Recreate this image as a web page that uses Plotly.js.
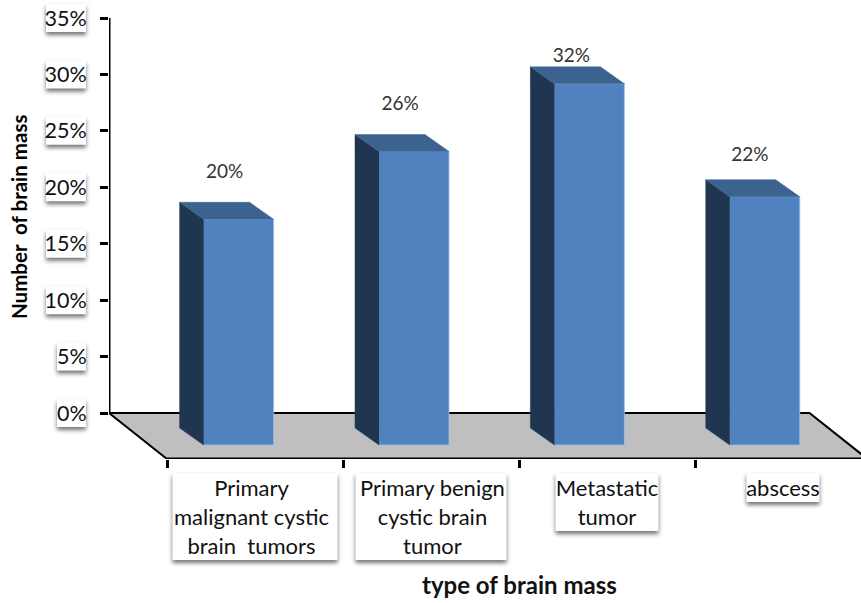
<!DOCTYPE html>
<html>
<head>
<meta charset="utf-8">
<script src="https://cdn.plot.ly/plotly-3.0.1.min.js"></script>
<style>
  html, body { margin: 0; padding: 0; background: #fff; }
  #chart { width: 861px; height: 603px; }
</style>
</head>
<body>
<div id="chart"></div>
<script>
// Brain mass types, share of cases
const categories = ['Primary<br>malignant cystic<br>brain\u00a0\u00a0tumors', 'Primary benign<br>cystic brain<br>tumor', 'Metastatic<br>tumor', 'abscess'];
const values = [20, 26, 32, 22];
const valueLabels = ['20%', '26%', '32%', '22%'];
const yTicks = [0, 5, 10, 15, 20, 25, 30, 35];
const yTickLabels = ['0%', '5%', '10%', '15%', '20%', '25%', '30%', '35%'];

// Pixel scale of the page
const PLOT_L = 109, PLOT_R = 861, PLOT_B = 459, WALL_ZERO = 413, WALL_TOP = 18;
const PX_PER_UNIT_Y = (WALL_ZERO - WALL_TOP) / 35;
const PX_PER_CAT = 176, FRONT_LEFT = 167;

// Perspective offsets of the floor and the bars, in axis units
const FLOOR_DX = (FRONT_LEFT - PLOT_L) / PX_PER_CAT, FLOOR_DY = (PLOT_B - WALL_ZERO) / PX_PER_UNIT_Y;
const FLOOR_END = 3.98;
const BAR_BASE = -32 / PX_PER_UNIT_Y, BAR_W = 70 / PX_PER_CAT, BAR_OFFSET = 0.407, BAR_STEP = 0.9965;
const DEPTH_X = 24 / PX_PER_CAT, DEPTH_Y = 17 / PX_PER_UNIT_Y;
const LABEL_LIFT = [29, 29, 10, 23].map(p => p / PX_PER_UNIT_Y);
const LABEL_SHIFT = [-14, -14, -18, -15].map(p => p / PX_PER_CAT);
const TICK_LABEL_NUDGE = [-0.02, 0.008, 0, 0];

const barX = values.map((_, i) => BAR_OFFSET + i * BAR_STEP);
const barEdge = 'rgba(160,195,235,0.75)';

const traces = [{
  type: 'bar', x: barX, y: values, base: values.map(() => BAR_BASE), width: BAR_W,
  marker: { color: '#5082BF', line: { color: barEdge, width: 1 } }, hoverinfo: 'skip'
}];

// Side and top faces of each bar
values.forEach((v, i) => {
  const l = barX[i] - BAR_W / 2, r = barX[i] + BAR_W / 2, t = BAR_BASE + v;
  traces.push({
    type: 'scatter', mode: 'lines', fill: 'toself', fillcolor: '#1F3550',
    x: [l, l, l - DEPTH_X, l - DEPTH_X, l],
    y: [BAR_BASE, t, t + DEPTH_Y, BAR_BASE + DEPTH_Y, BAR_BASE],
    line: { color: '#1F3550', width: 0.5 }, hoverinfo: 'skip'
  });
  traces.push({
    type: 'scatter', mode: 'lines', fill: 'toself', fillcolor: '#3C628F',
    x: [l, r, r - DEPTH_X, l - DEPTH_X, l],
    y: [t, t, t + DEPTH_Y, t + DEPTH_Y, t],
    line: { color: '#3C628F', width: 0.5 }, hoverinfo: 'skip'
  });
});

// Axis frame: vertical wall line and the front edge of the floor
traces.push({
  type: 'scatter', mode: 'lines', cliponaxis: false, hoverinfo: 'skip',
  x: [-FLOOR_DX, -FLOOR_DX], y: [0, 35], line: { color: '#000', width: 3 }
});
traces.push({
  type: 'scatter', mode: 'lines', hoverinfo: 'skip', cliponaxis: false,
  x: [0, FLOOR_END], y: [-FLOOR_DY, -FLOOR_DY], line: { color: '#000', width: 3 }
});

// Value labels above the bars
traces.push({
  type: 'scatter', mode: 'text', hoverinfo: 'skip', cliponaxis: false,
  x: barX.map((x, i) => x + LABEL_SHIFT[i]),
  y: values.map((v, i) => BAR_BASE + v + DEPTH_Y + LABEL_LIFT[i]),
  text: valueLabels, textposition: 'middle center',
  textfont: { family: 'Lato', size: 19, color: '#333' }
});

const pxY = py => (PLOT_B - py) / PLOT_B;
const pxX = px => (px - PLOT_L) / (PLOT_R - PLOT_L);

// Floor polygon with its outline, then the white label cards with their shadow
const floorPath = `M ${-FLOOR_DX} 0 L ${FLOOR_END - FLOOR_DX} 0 L ${FLOOR_END} ${-FLOOR_DY} L 0 ${-FLOOR_DY} Z`;
const shapes = [{
  type: 'path', xref: 'x', yref: 'y', layer: 'between', path: floorPath,
  fillcolor: '#BFBFBF', line: { color: '#000', width: 2 }
}];
const card = { type: 'rect', layer: 'below', fillcolor: '#fff', line: { width: 0 } };
yTicks.forEach(t => {
  shapes.push(Object.assign({}, card, {
    xref: 'paper', yref: 'y', ysizemode: 'pixel', yanchor: t, y0: -14, y1: 14,
    x0: pxX(t < 10 ? 57 : 46), x1: pxX(86)
  }));
});
const cardWidths = [165, 151, 103, 73];
const cardLines = [3, 3, 2, 1];
categories.forEach((c, i) => {
  shapes.push(Object.assign({}, card, {
    xref: 'x', yref: 'paper', xsizemode: 'pixel', xanchor: i + 0.5,
    x0: -cardWidths[i] / 2, x1: cardWidths[i] / 2,
    y0: pxY(473), y1: pxY(473 + 29 * cardLines[i])
  }));
});

const layout = {
  width: 861, height: 603,
  margin: { l: PLOT_L, r: 861 - PLOT_R, t: 0, b: 603 - PLOT_B },
  paper_bgcolor: '#fff', plot_bgcolor: '#fff',
  showlegend: false, bargap: 0,
  font: { family: 'Lato', color: '#111' },
  xaxis: {
    type: 'linear', range: [-FLOOR_DX, (PLOT_R - FRONT_LEFT) / PX_PER_CAT],
    showgrid: false, zeroline: false, showline: false,
    tickmode: 'array', tickvals: categories.map((_, i) => i + 0.5 + TICK_LABEL_NUDGE[i]), ticktext: categories,
    ticks: '', ticklabelstandoff: 14, tickangle: 0,
    tickfont: { family: 'Lato', size: 22, color: '#111' },
    minor: { tickmode: 'array', tickvals: [0, 1, 2, 3, 4], ticks: 'outside', ticklen: 8, tickwidth: 3, tickcolor: '#000', showgrid: false }
  },
  yaxis: {
    range: [-FLOOR_DY, WALL_ZERO / PX_PER_UNIT_Y],
    showgrid: false, zeroline: false, showline: false,
    tickmode: 'array', tickvals: yTicks, ticktext: yTickLabels,
    ticks: 'outside', ticklen: 8, tickwidth: 3, tickcolor: '#000', ticklabelstandoff: 9,
    tickfont: { family: 'Lato', size: 21.5, color: '#111' }
  },
  shapes: shapes,
  annotations: [
    { text: '<b>Number\u00a0\u00a0of brain mass</b>', xref: 'paper', yref: 'paper', x: pxX(19), y: pxY(217),
      xanchor: 'center', yanchor: 'middle', textangle: -90, showarrow: false, font: { family: 'Lato', size: 20.5, color: '#000' } },
    { text: '<b>type of brain mass</b>', xref: 'paper', yref: 'paper', x: pxX(519), y: pxY(584),
      xanchor: 'center', yanchor: 'middle', showarrow: false, font: { family: 'Lato', size: 24, color: '#111' } }
  ]
};

Plotly.newPlot('chart', traces, layout, { displayModeBar: false, staticPlot: true }).then(() => {
  // Soft shadow under the label cards; the first shape is the floor
  document.querySelectorAll('path[data-index]').forEach(p => {
    if (p.getAttribute('data-index') !== '0') p.style.filter = 'drop-shadow(0 3px 2px rgba(0,0,0,0.55))';
  });
  // Wider line spacing for the category labels
  document.querySelectorAll('.xtick text').forEach(label => {
    label.querySelectorAll('tspan.line').forEach((t, i) => t.setAttribute('dy', (i * 1.32) + 'em'));
  });
});
</script>
</body>
</html>
